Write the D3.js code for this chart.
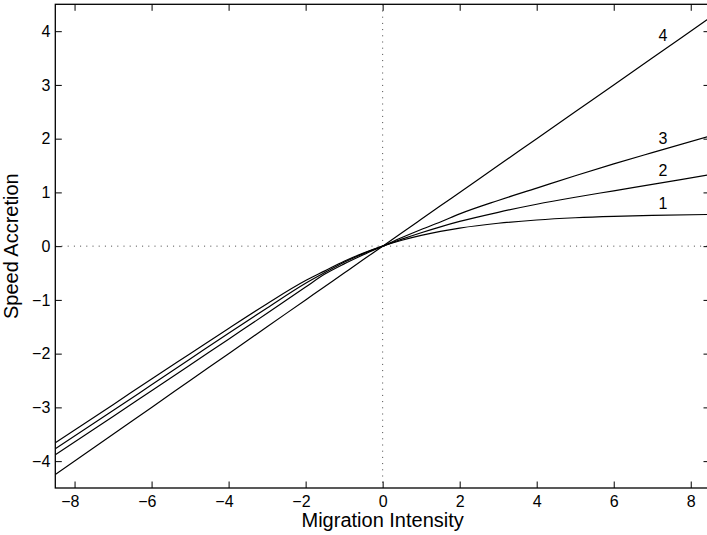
<!DOCTYPE html>
<html>
<head>
<meta charset="utf-8">
<script src="https://cdn.jsdelivr.net/npm/d3@7"></script>
<style>
  html, body { margin: 0; padding: 0; background: #fff; }
  svg { display: block; font-family: "Liberation Sans", Arial, Helvetica, sans-serif; }
</style>
</head>
<body>
<svg id="chart"></svg>
<script>
// sample points along the migration axis
const xs = [-8.5, -7, -6, -5, -4, -3, -2, -1.5, -1, -0.5, 0, 0.5, 1, 1.5, 2, 3, 4, 5, 6, 7, 8.5];

// speed accretion for each curve
const curve1 = [-3.66, -2.95, -2.47, -2.00, -1.53, -1.07, -0.64, -0.46, -0.28, -0.13, 0, 0.11, 0.20, 0.275, 0.336, 0.426, 0.487, 0.528, 0.555, 0.573, 0.590];
const curve2 = [-3.77, -3.06, -2.58, -2.10, -1.62, -1.15, -0.69, -0.49, -0.30, -0.14, 0, 0.13, 0.25, 0.36, 0.46, 0.63, 0.78, 0.91, 1.03, 1.15, 1.33];
const curve3 = [-3.88, -3.17, -2.69, -2.21, -1.73, -1.25, -0.76, -0.52, -0.33, -0.16, 0, 0.16, 0.31, 0.45, 0.60, 0.85, 1.08, 1.31, 1.53, 1.74, 2.05];
const curve4 = [-4.25, -3.5, -3.0, -2.5, -2.0, -1.5, -1.0, -0.75, -0.5, -0.25, 0, 0.25, 0.5, 0.75, 1.0, 1.5, 2.0, 2.5, 3.0, 3.5, 4.25];

const curveNames = ['1', '2', '3', '4'];
const labelX = [7.28, 7.28, 7.28, 7.28];
const labelY = [0.80, 1.41, 2.01, 3.93];

const xTicks = [-8, -6, -4, -2, 0, 2, 4, 6, 8];
const yTicks = [-4, -3, -2, -1, 0, 1, 2, 3, 4];

const WIDTH = 707;
const HEIGHT = 535;
const LEFT = 55.3, RIGHT = 710, TOP = 4.3, BOTTOM = 488;
const TICK = 6.5;

const svg = d3.select('#chart')
  .attr('width', WIDTH)
  .attr('height', HEIGHT);

const x = d3.scaleLinear().domain([-8.5, 8.5]).range([LEFT, RIGHT]);
const y = d3.scaleLinear().domain([-4.5, 4.5]).range([BOTTOM, TOP]);

svg.append('defs').append('clipPath')
  .attr('id', 'plot-clip')
  .append('rect')
  .attr('x', LEFT).attr('y', TOP)
  .attr('width', RIGHT - LEFT).attr('height', BOTTOM - TOP);

// dotted zero lines
svg.append('g')
  .attr('stroke', '#444')
  .attr('stroke-width', 1)
  .attr('stroke-dasharray', '1,5.2')
  .call(g => g.append('line')
    .attr('x1', x(0)).attr('x2', x(0))
    .attr('y1', TOP).attr('y2', BOTTOM))
  .call(g => g.append('line')
    .attr('x1', LEFT).attr('x2', RIGHT)
    .attr('y1', y(0)).attr('y2', y(0)));

// curves
const series = [curve1, curve2, curve3, curve4];
const line = d3.line()
  .x((d, i) => x(xs[i]))
  .y(d => y(d))
  .curve(d3.curveMonotoneX);

svg.append('g')
  .attr('clip-path', 'url(#plot-clip)')
  .selectAll('path')
  .data(series)
  .enter()
  .append('path')
  .attr('d', line)
  .attr('fill', 'none')
  .attr('stroke', '#000')
  .attr('stroke-width', 1.2);

// curve numbers
svg.append('g')
  .selectAll('text')
  .data(curveNames)
  .enter()
  .append('text')
  .attr('x', (d, i) => x(labelX[i]))
  .attr('y', (d, i) => y(labelY[i]))
  .attr('dy', '0.36em')
  .attr('text-anchor', 'middle')
  .attr('font-size', 16)
  .text(d => d);

// inward ticks on all four sides
const bottomAxis = d3.axisBottom(x).tickValues(xTicks).tickSizeInner(-TICK).tickSizeOuter(0).tickPadding(8);
const topAxis = d3.axisTop(x).tickValues(xTicks).tickSizeInner(-TICK).tickSizeOuter(0).tickFormat('');
const leftAxis = d3.axisLeft(y).tickValues(yTicks).tickSizeInner(-TICK).tickSizeOuter(0).tickPadding(5);
const rightAxis = d3.axisRight(y).tickValues(yTicks).tickSizeInner(-TICK).tickSizeOuter(0).tickFormat('');

function styleAxis(g) {
  g.select('.domain').remove();
  g.selectAll('.tick line').attr('stroke', '#000').attr('stroke-width', 1);
  g.selectAll('.tick text')
    .attr('fill', '#000')
    .attr('font-size', 16)
    .attr('font-family', '"Liberation Sans", Arial, Helvetica, sans-serif');
}

svg.append('g')
  .attr('transform', `translate(0,${BOTTOM})`)
  .call(bottomAxis)
  .call(styleAxis)
  .call(g => g.selectAll('.tick text')
    .attr('dx', d => d < 0 ? -4.7 : 0));

svg.append('g')
  .attr('transform', `translate(0,${TOP})`)
  .call(topAxis)
  .call(styleAxis);

svg.append('g')
  .attr('transform', `translate(${LEFT},0)`)
  .call(leftAxis)
  .call(styleAxis);

svg.append('g')
  .attr('transform', `translate(${RIGHT},0)`)
  .call(rightAxis)
  .call(styleAxis);

// box
svg.append('rect')
  .attr('x', LEFT).attr('y', TOP)
  .attr('width', RIGHT - LEFT).attr('height', BOTTOM - TOP)
  .attr('fill', 'none')
  .attr('stroke', '#000')
  .attr('stroke-width', 1.3);

// axis titles
svg.append('text')
  .attr('x', (LEFT + RIGHT) / 2)
  .attr('y', 527)
  .attr('text-anchor', 'middle')
  .attr('font-size', 20)
  .text('Migration Intensity');

svg.append('text')
  .attr('transform', `translate(18,${(TOP + BOTTOM) / 2}) rotate(-90)`)
  .attr('text-anchor', 'middle')
  .attr('font-size', 20)
  .text('Speed Accretion');
</script>
</body>
</html>
